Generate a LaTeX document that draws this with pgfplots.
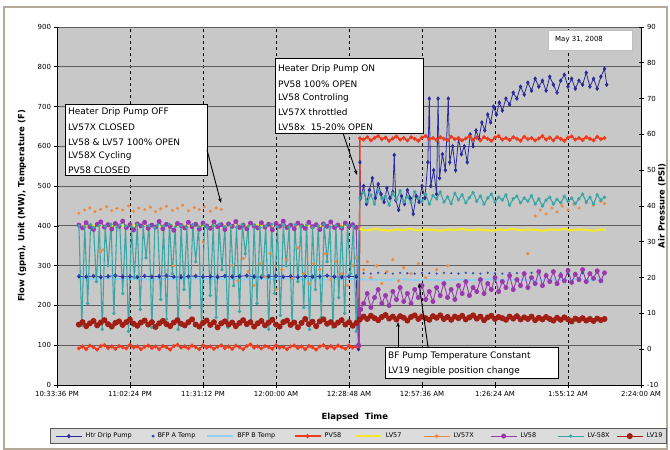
\documentclass[border=0pt]{standalone}
\usepackage{fontspec}
\setmainfont{DejaVu Sans}
\usepackage{pgfplots}
\pgfplotsset{compat=1.18}
\usetikzlibrary{arrows.meta}
\definecolor{plotbg}{HTML}{C8C8C8}
\definecolor{gridc}{HTML}{5E5E5E}
\definecolor{htr}{HTML}{2A2A9A}
\definecolor{bfpa}{HTML}{2F4FC0}
\definecolor{bfpb}{HTML}{8FD0F2}
\definecolor{pvr}{HTML}{F03A1E}
\definecolor{lvy}{HTML}{F2E830}
\definecolor{lvo}{HTML}{F08A40}
\definecolor{lvp}{HTML}{9A38B0}
\definecolor{lvt}{HTML}{3AA6A6}
\definecolor{lvd}{HTML}{A01E14}
\definecolor{framec}{HTML}{B4A898}
\definecolor{legbg}{HTML}{DCDCDC}
\begin{document}
\begin{tikzpicture}[x=1bp,y=-1bp]
\path[use as bounding box] (0,0) rectangle (670,450);
\draw[framec, line width=1.2bp] (4,7) rectangle (667,449);
\coordinate (AxSW) at (57,385);
\begin{axis}[
  at={(AxSW)}, anchor=south west,
  scale only axis, width=584bp, height=358bp,
  xmin=0, xmax=8, ymin=0, ymax=900,
  axis x line*=bottom, axis y line*=left,
  axis line style={black, line width=0.8pt, -},
  axis background/.style={fill=plotbg},
  xtick={0,1,...,8},
  xticklabels={10:33:36 PM, 11:02:24 PM, 11:31:12 PM, 12:00:00 AM, 12:28:48 AM, 12:57:36 AM, 1:26:24 AM, 1:55:12 AM, 2:24:00 AM},
  ytick={0,100,...,900},
  tick align=center, major tick length=5bp,
  tick style={black, line width=0.7pt},
  ticklabel style={font=\fontsize{7}{8}\selectfont},
  /pgf/number format/assume math mode=true,
  xmajorgrids, ymajorgrids,
  major x grid style={black, dashed, line width=0.7pt},
  major y grid style={gridc, line width=0.9pt},
  xlabel={Elapsed\ \ Time},
  xlabel style={font=\fontsize{8.5}{9}\selectfont\bfseries, at={(axis description cs:0.51,-0.089)}, anchor=center},
  ylabel={Flow (gpm), Unit (MW), Temperature (F)},
  ylabel style={font=\fontsize{8.5}{9}\selectfont\bfseries, at={(axis description cs:-0.060,0.5)}, anchor=center},
  legend columns=9,
  legend style={at={(axis description cs:-0.012,-0.120)}, anchor=north west,
    fill=legbg, draw=gray!70!black, line width=0.9pt,
    font=\fontsize{6.5}{7}\selectfont, inner xsep=5bp, inner ysep=4bp,
    nodes={inner sep=0.5bp},
    /tikz/every odd column/.append style={column sep=3bp}},
  legend image code/.code={\draw[mark repeat=2, mark phase=2, #1] plot coordinates {(0bp,0bp) (13bp,0bp) (26bp,0bp)};},
]
% Htr Drip Pump
\addplot[htr, line width=0.8pt, mark=diamond*, mark size=1.7pt] coordinates {
(0.30,273)(0.40,272)(0.50,274)(0.60,271)(0.70,273)(0.80,275)(0.90,272)(1.00,273)(1.10,271)(1.20,274)(1.30,272)(1.40,273)(1.50,275)(1.60,272)(1.70,271)(1.80,273)(1.90,274)(2.00,272)(2.10,273)(2.20,271)(2.30,274)(2.40,272)(2.50,273)(2.60,275)(2.70,272)(2.80,271)(2.90,273)(3.00,274)(3.10,272)(3.20,273)(3.30,271)(3.40,274)(3.50,272)(3.60,273)(3.70,275)(3.80,272)(3.90,271)(4.00,273)(4.10,272)
(4.13,90)(4.15,560)
(4.16,470)(4.20,500)(4.24,455)(4.28,490)(4.32,520)(4.36,470)(4.40,505)(4.44,480)(4.48,460)(4.52,495)(4.56,470)(4.60,485)(4.62,578)(4.64,465)(4.68,440)(4.72,475)(4.76,455)(4.80,490)(4.84,470)(4.88,430)(4.92,475)(4.96,460)(5.00,500)(5.04,470)(5.08,560)(5.10,720)(5.12,500)(5.16,540)(5.20,480)(5.22,720)(5.24,520)(5.28,580)(5.32,540)(5.36,720)(5.38,560)(5.42,600)(5.46,540)(5.50,620)(5.54,580)(5.58,600)(5.62,560)(5.66,630)(5.70,600)(5.74,640)(5.78,620)(5.82,660)(5.86,640)(5.90,680)(5.94,660)(5.98,700)(6.02,680)(6.06,710)(6.10,690)(6.15,720)(6.20,705)(6.25,735)(6.30,720)(6.35,750)(6.40,730)(6.45,760)(6.50,740)(6.55,770)(6.60,750)(6.65,765)(6.70,740)(6.75,775)(6.80,755)(6.85,735)(6.90,765)(6.95,780)(7.00,750)(7.05,770)(7.10,745)(7.15,765)(7.20,755)(7.25,785)(7.30,750)(7.35,770)(7.40,745)(7.45,775)(7.50,795)(7.53,755)
};
\addlegendentry{\makebox[66bp][l]{Htr Drip Pump}}
% BFP A Temp
\addplot[bfpa, only marks, mark=*, mark size=0.9pt] coordinates {
(0.30,276)(0.40,275)(0.50,276)(0.60,274)(0.70,276)(0.80,275)(0.90,276)(1.00,275)(1.10,274)(1.20,276)(1.30,275)(1.40,276)(1.50,275)(1.60,274)(1.70,276)(1.80,275)(1.90,276)(2.00,275)(2.10,274)(2.20,276)(2.30,275)(2.40,276)(2.50,275)(2.60,274)(2.70,276)(2.80,275)(2.90,276)(3.00,275)(3.10,274)(3.20,276)(3.30,275)(3.40,276)(3.50,275)(3.60,274)(3.70,276)(3.80,275)(3.90,276)(4.00,275)(4.10,276)
(4.20,281)(4.30,280)(4.40,282)(4.50,281)(4.60,280)(4.70,282)(4.80,281)(4.90,280)(5.00,282)(5.10,281)(5.20,280)(5.30,282)(5.40,281)(5.50,280)(5.60,282)(5.70,281)(5.80,280)(5.90,282)(6.00,281)(6.10,280)(6.20,282)(6.30,281)(6.40,280)(6.50,282)(6.60,281)(6.70,280)(6.80,282)(6.90,281)(7.00,280)(7.10,282)(7.20,281)(7.30,280)(7.40,282)(7.50,281)
};
\addlegendentry{\makebox[48bp][l]{BFP A Temp}}
% BFP B Temp
\addplot[bfpb, line width=1.8pt] coordinates {
(0.30,267)(0.50,266)(0.70,268)(0.90,266)(1.10,267)(1.30,265)(1.50,267)(1.70,266)(1.90,268)(2.10,266)(2.30,267)(2.50,265)(2.70,267)(2.90,266)(3.10,268)(3.30,266)(3.50,267)(3.70,265)(3.90,267)(4.10,266)
(4.30,265)(4.50,264)(4.70,266)(4.90,264)(5.10,265)(5.30,263)(5.50,265)(5.70,264)(5.90,266)(6.10,264)(6.30,265)(6.50,263)(6.70,265)(6.90,264)(7.10,266)(7.30,264)(7.50,265)
};
\addlegendentry{\makebox[56bp][l]{BFP B Temp}}
% PV58
\addplot[pvr, line width=1.4pt, mark=*, mark size=1.2pt] coordinates {
(0.30,92)(0.35,97)(0.40,90)(0.45,99)(0.50,95)(0.55,89)(0.60,98)(0.65,100)(0.70,93)(0.75,97)(0.80,91)(0.85,98)(0.90,95)(0.95,92)(1.00,101)(1.05,94)(1.10,97)(1.15,90)(1.20,96)(1.25,99)(1.30,93)(1.35,97)(1.40,90)(1.45,98)(1.50,95)(1.55,89)(1.60,98)(1.65,101)(1.70,94)(1.75,97)(1.80,92)(1.85,99)(1.90,95)(1.95,90)(2.00,100)(2.05,94)(2.10,97)(2.15,91)(2.20,96)(2.25,100)(2.30,93)(2.35,97)(2.40,91)(2.45,99)(2.50,95)(2.55,90)(2.60,98)(2.65,102)(2.70,94)(2.75,97)(2.80,92)(2.85,98)(2.90,95)(2.95,91)(3.00,100)(3.05,94)(3.10,96)(3.15,90)(3.20,97)(3.25,99)(3.30,93)(3.35,97)(3.40,90)(3.45,98)(3.50,95)(3.55,89)(3.60,97)(3.65,100)(3.70,93)(3.75,98)(3.80,92)(3.85,99)(3.90,95)(3.95,91)(4.00,99)(4.05,94)(4.10,97)
(4.14,97)(4.15,620)
(4.20,617)(4.25,623)(4.30,615)(4.35,621)(4.40,626)(4.45,618)(4.50,622)(4.55,614)(4.60,620)(4.65,625)(4.70,617)(4.75,621)(4.80,615)(4.85,623)(4.90,619)(4.95,614)(5.00,622)(5.05,626)(5.10,618)(5.15,621)(5.20,616)(5.25,623)(5.30,619)(5.35,615)(5.40,624)(5.45,618)(5.50,621)(5.55,615)(5.60,620)(5.65,625)(5.70,617)(5.75,622)(5.80,615)(5.85,623)(5.90,619)(5.95,614)(6.00,622)(6.05,626)(6.10,617)(6.15,621)(6.20,616)(6.25,623)(6.30,619)(6.35,614)(6.40,624)(6.45,618)(6.50,621)(6.55,615)(6.60,620)(6.65,626)(6.70,617)(6.75,622)(6.80,615)(6.85,623)(6.90,619)(6.95,614)(7.00,622)(7.05,625)(7.10,617)(7.15,621)(7.20,616)(7.25,623)(7.30,619)(7.35,615)(7.40,624)(7.45,618)(7.50,621)
};
\addlegendentry{\makebox[29bp][l]{PV58}}
% LV57
\addplot[lvy, line width=2.2pt] coordinates {
(0.30,400)(0.50,401)(0.70,399)(0.90,400)(1.10,402)(1.30,400)(1.50,399)(1.70,401)(1.90,400)(2.10,399)(2.30,401)(2.50,400)(2.70,402)(2.90,400)(3.10,399)(3.30,401)(3.50,400)(3.70,399)(3.90,401)(4.10,400)
(4.16,391)(4.25,389)(4.35,392)(4.45,390)(4.55,388)(4.65,391)(4.75,390)(4.85,392)(4.95,389)(5.05,391)(5.15,390)(5.25,388)(5.35,391)(5.45,390)(5.55,392)(5.65,389)(5.75,391)(5.85,390)(5.95,388)(6.05,391)(6.15,390)(6.25,392)(6.35,389)(6.45,391)(6.55,390)(6.65,388)(6.75,391)(6.85,390)(6.95,392)(7.05,389)(7.15,391)(7.25,390)(7.35,388)(7.45,391)(7.52,390)
};
\addlegendentry{\makebox[37bp][l]{LV57}}
% LV57X
\addplot[lvo, only marks, mark=*, mark size=1.4pt,
  legend image code/.code={\draw[lvo, line width=0.8pt] (0bp,0bp) -- (26bp,0bp); \fill[lvo] (13bp,0bp) circle (1.4pt);}] coordinates {
(0.30,432)(0.38,440)(0.45,445)(0.52,436)(0.60,442)(0.68,448)(0.75,438)(0.82,444)(0.90,440)(0.98,450)(1.05,437)(1.12,445)(1.20,441)(1.28,447)(1.35,436)(1.42,443)(1.50,449)(1.58,439)(1.65,444)(1.72,452)(1.80,438)(1.88,446)(1.95,441)(2.02,448)(2.10,437)(2.18,445)(2.25,442)
(0.60,335)(0.63,340)(1.60,300)(2.00,360)
(2.40,300)(2.48,262)(2.55,318)(2.62,285)(2.70,250)(2.78,305)(2.85,272)(2.92,330)(3.00,240)(3.08,290)(3.15,315)(3.22,268)(3.30,345)(3.38,280)(3.45,255)(3.52,305)(3.60,290)(3.68,330)(3.75,265)(3.82,310)(3.90,280)(3.98,250)(4.05,300)(4.10,320)
(4.20,290)(4.25,310)(4.30,270)(4.38,300)(4.45,255)(4.52,285)(4.60,315)(4.68,262)(4.75,295)(4.85,280)(4.95,305)(5.05,270)(5.20,290)(5.35,300)(6.45,330)
(6.55,425)(6.62,440)(6.70,430)(6.78,445)(6.85,435)(6.92,450)(7.00,440)(7.08,455)(7.15,445)(7.25,458)(7.35,452)(7.45,462)(7.50,456)
};
\addlegendentry{\makebox[36bp][l]{LV57X}}
% LV58
\addplot[lvp, line width=0.9pt, mark=*, mark size=2pt] coordinates {
(0.30,402)(0.35,395)(0.40,408)(0.45,398)(0.50,391)(0.55,404)(0.60,410)(0.65,397)(0.70,403)(0.75,392)(0.80,406)(0.85,399)(0.90,412)(0.95,396)(1.00,403)(1.05,390)(1.10,405)(1.15,400)(1.20,409)(1.25,394)(1.30,402)(1.35,397)(1.40,411)(1.45,393)(1.50,404)(1.55,399)(1.60,389)(1.65,406)(1.70,401)(1.75,395)(1.80,409)(1.85,398)(1.90,404)(1.95,392)(2.00,407)(2.05,400)(2.10,394)(2.15,410)(2.20,398)(2.25,403)(2.30,391)(2.35,405)(2.40,399)(2.45,411)(2.50,396)(2.55,402)(2.60,393)(2.65,407)(2.70,400)(2.75,395)(2.80,408)(2.85,397)(2.90,404)(2.95,390)(3.00,406)(3.05,399)(3.10,412)(3.15,396)(3.20,402)(3.25,393)(3.30,407)(3.35,400)(3.40,394)(3.45,409)(3.50,398)(3.55,403)(3.60,391)(3.65,405)(3.70,399)(3.75,410)(3.80,396)(3.85,402)(3.90,394)(3.95,407)(4.00,399)(4.05,403)(4.10,396)
(4.13,100)(4.16,190)
(4.20,205)(4.25,230)(4.30,195)(4.35,220)(4.40,240)(4.45,205)(4.50,225)(4.55,200)(4.60,235)(4.65,215)(4.70,245)(4.75,210)(4.80,230)(4.85,205)(4.90,240)(4.95,220)(5.00,250)(5.05,215)(5.10,235)(5.15,210)(5.20,245)(5.25,225)(5.30,255)(5.35,220)(5.40,240)(5.45,215)(5.50,250)(5.55,230)(5.60,260)(5.65,225)(5.70,245)(5.75,235)(5.80,265)(5.85,230)(5.90,255)(5.95,240)(6.00,270)(6.05,235)(6.10,260)(6.15,245)(6.20,275)(6.25,240)(6.30,265)(6.35,250)(6.40,280)(6.45,245)(6.50,270)(6.55,255)(6.60,285)(6.65,250)(6.70,275)(6.75,260)(6.80,285)(6.85,255)(6.90,275)(6.95,262)(7.00,288)(7.05,258)(7.10,278)(7.15,265)(7.20,290)(7.25,260)(7.30,280)(7.35,268)(7.40,287)(7.45,262)(7.50,282)
};
\addlegendentry{\makebox[36bp][l]{LV58}}
% LV-58X
\addplot[lvt, line width=1.1pt, mark=*, mark size=1.1pt] coordinates {
(0.30,400)(0.34,150)(0.38,398)(0.42,205)(0.46,403)(0.50,396)(0.54,260)(0.58,401)(0.62,140)(0.66,399)(0.70,300)(0.74,404)(0.78,180)(0.82,397)(0.86,402)(0.90,230)(0.94,400)(0.98,135)(1.02,398)(1.06,270)(1.10,403)(1.14,190)(1.18,399)(1.22,320)(1.26,401)(1.30,145)(1.34,396)(1.38,402)(1.42,215)(1.46,400)(1.50,165)(1.54,404)(1.58,280)(1.62,398)(1.66,140)(1.70,401)(1.74,240)(1.78,397)(1.82,195)(1.86,403)(1.90,310)(1.94,399)(1.98,150)(2.02,402)(2.06,396)(2.10,225)(2.14,400)(2.18,170)(2.22,404)(2.26,290)(2.30,398)(2.34,145)(2.38,401)(2.42,250)(2.46,397)(2.50,185)(2.54,403)(2.58,330)(2.62,399)(2.66,155)(2.70,402)(2.74,205)(2.78,396)(2.82,275)(2.86,400)(2.90,140)(2.94,404)(2.98,230)(3.02,398)(3.06,175)(3.10,401)(3.14,300)(3.18,397)(3.22,150)(3.26,403)(3.30,260)(3.34,399)(3.38,195)(3.42,402)(3.46,140)(3.50,396)(3.54,240)(3.58,400)(3.62,170)(3.66,404)(3.70,310)(3.74,398)(3.78,145)(3.82,401)(3.86,220)(3.90,397)(3.94,180)(3.98,403)(4.02,280)(4.06,399)(4.10,135)
(4.15,470)(4.20,485)(4.25,460)(4.30,478)(4.35,455)(4.40,490)(4.45,468)(4.50,475)(4.55,452)(4.60,482)(4.65,466)(4.70,488)(4.75,460)(4.80,474)(4.85,458)(4.90,486)(4.95,470)(5.00,462)(5.05,480)(5.10,455)(5.15,476)(5.20,468)(5.25,485)(5.30,460)(5.35,473)(5.40,456)(5.45,482)(5.50,466)(5.55,478)(5.60,458)(5.65,471)(5.70,484)(5.75,462)(5.80,475)(5.85,455)(5.90,470)(5.95,480)(6.00,460)(6.05,472)(6.10,465)(6.15,478)(6.20,452)(6.25,468)(6.30,475)(6.35,458)(6.40,470)(6.45,462)(6.50,476)(6.55,455)(6.60,468)(6.65,450)(6.70,465)(6.75,472)(6.80,455)(6.85,467)(6.90,458)(6.95,474)(7.00,462)(7.05,470)(7.10,456)(7.15,468)(7.20,480)(7.25,460)(7.30,472)(7.35,455)(7.40,478)(7.45,465)(7.50,472)
};
\addlegendentry{\makebox[28bp][l]{LV-58X}}
% LV19
\addplot[lvd, line width=1.2pt, mark=*, mark size=2.4pt] coordinates {
(0.30,152)(0.35,158)(0.40,148)(0.45,155)(0.50,161)(0.55,150)(0.60,157)(0.65,163)(0.70,153)(0.75,147)(0.80,156)(0.85,160)(0.90,151)(0.95,158)(1.00,164)(1.05,154)(1.10,149)(1.15,157)(1.20,162)(1.25,152)(1.30,158)(1.35,146)(1.40,155)(1.45,161)(1.50,153)(1.55,148)(1.60,157)(1.65,163)(1.70,154)(1.75,150)(1.80,158)(1.85,165)(1.90,152)(1.95,147)(2.00,156)(2.05,162)(2.10,151)(2.15,158)(2.20,145)(2.25,155)(2.30,160)(2.35,152)(2.40,157)(2.45,148)(2.50,156)(2.55,163)(2.60,153)(2.65,158)(2.70,147)(2.75,155)(2.80,161)(2.85,150)(2.90,157)(2.95,164)(3.00,152)(3.05,147)(3.10,158)(3.15,162)(3.20,151)(3.25,157)(3.30,145)(3.35,156)(3.40,166)(3.45,153)(3.50,159)(3.55,148)(3.60,160)(3.65,165)(3.70,154)(3.75,158)(3.80,150)(3.85,157)(3.90,163)(3.95,152)(4.00,158)(4.05,149)(4.10,156)
(4.15,165)(4.20,172)(4.25,166)(4.30,174)(4.35,168)(4.40,163)(4.45,171)(4.50,176)(4.55,167)(4.60,172)(4.65,165)(4.70,173)(4.75,169)(4.80,162)(4.85,171)(4.90,175)(4.95,166)(5.00,172)(5.05,168)(5.10,164)(5.15,173)(5.20,169)(5.25,175)(5.30,166)(5.35,171)(5.40,164)(5.45,172)(5.50,168)(5.55,174)(5.60,165)(5.65,170)(5.70,175)(5.75,167)(5.80,172)(5.85,163)(5.90,170)(5.95,174)(6.00,166)(6.05,171)(6.10,168)(6.15,164)(6.20,172)(6.25,167)(6.30,173)(6.35,165)(6.40,170)(6.45,166)(6.50,172)(6.55,163)(6.60,169)(6.65,165)(6.70,171)(6.75,166)(6.80,162)(6.85,169)(6.90,164)(6.95,170)(7.00,165)(7.05,160)(7.10,167)(7.15,163)(7.20,168)(7.25,162)(7.30,166)(7.35,161)(7.40,167)(7.45,163)(7.50,166)
};
\addlegendentry{\makebox[14bp][l]{LV19}}
\end{axis}
\begin{axis}[
  at={(AxSW)}, anchor=south west,
  scale only axis, width=584bp, height=358bp,
  xmin=0, xmax=8, ymin=-10, ymax=90,
  axis x line=none, axis y line*=right,
  axis line style={black, line width=0.8pt, -},
  ytick={-10,0,...,90},
  tick align=center, major tick length=5bp,
  tick style={black, line width=0.7pt},
  ticklabel style={font=\fontsize{7}{8}\selectfont},
  /pgf/number format/assume math mode=true,
  ylabel={Air Pressure (PSI)},
  ylabel style={font=\fontsize{8.5}{9}\selectfont\bfseries, at={(axis description cs:1.036,0.5)}, anchor=center},
]
\addplot[draw=none] coordinates {(0,0)};
\end{axis}
% annotations
\begin{scope}[font=\fontsize{9}{10}\selectfont]
\draw[fill=white, line width=0.8pt] (65,104) rectangle (207,175);
\node[anchor=west, inner sep=0] at (68,112) {Heater Drip Pump OFF};
\node[anchor=west, inner sep=0] at (68,127) {LV57X CLOSED};
\node[anchor=west, inner sep=0] at (68,142) {LV58 \& LV57 100\% OPEN};
\node[anchor=west, inner sep=0] at (68,156) {LV58X Cycling};
\node[anchor=west, inner sep=0] at (68,170) {PV58 CLOSED};
\draw[line width=0.9pt, -{Stealth[length=5bp]}] (207,150) -- (221,203);
\draw[fill=white, line width=0.8pt] (275,58) rectangle (423,133);
\node[anchor=west, inner sep=0] at (278,69) {Heater Drip Pump ON};
\node[anchor=west, inner sep=0] at (278,84) {PV58 100\% OPEN};
\node[anchor=west, inner sep=0] at (278,98) {LV58 Controling};
\node[anchor=west, inner sep=0] at (278,112) {LV57X throttled};
\node[anchor=west, inner sep=0] at (278,127) {LV58x\ \ 15-20\% OPEN};
\draw[line width=0.9pt, -{Stealth[length=5bp]}] (343,133) -- (357,175);
\draw[fill=white, line width=0.8pt] (385,347) rectangle (558,378);
\node[anchor=west, inner sep=0] at (388,356) {BF Pump Temperature Constant};
\node[anchor=west, inner sep=0] at (388,371) {LV19 negible position change};
\draw[line width=0.9pt, -{Stealth[length=5bp]}] (398,347) -- (398,322);
\draw[line width=0.9pt, -{Stealth[length=5bp]}] (428,347) -- (419,283);
\draw[fill=white, draw=gray!50, line width=0.6pt] (548,30) rectangle (632,50);
\node[anchor=west, inner sep=0, font=\fontsize{7}{8}\selectfont] at (555,40) {May 31, 2008};
\end{scope}
\end{tikzpicture}
\end{document}
